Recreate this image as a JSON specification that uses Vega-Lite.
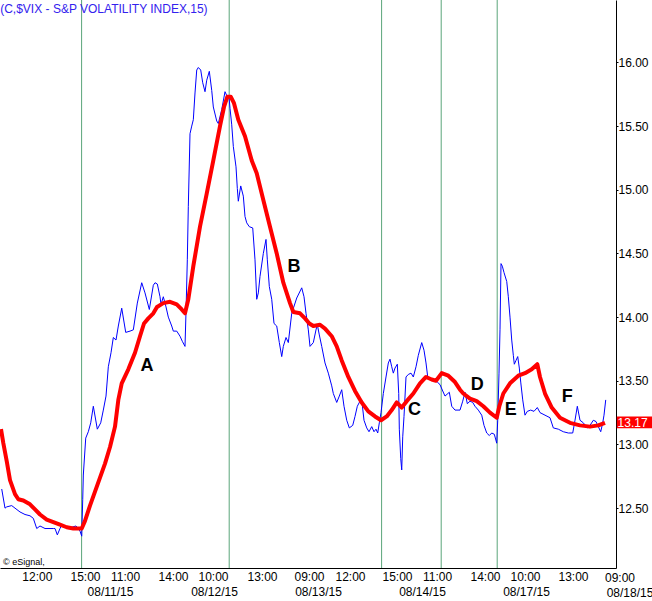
{
  "$schema": "https://vega.github.io/schema/vega-lite/v6.json",
  "width": 616,
  "height": 568,
  "autosize": "none",
  "padding": {"left": 0, "top": 0, "right": 36, "bottom": 33},
  "background": "white",
  "config": {"view": {"stroke": null}, "font": "Liberation Sans"},
  "datasets": {
    "vix": [
      {"t":0.43,"v":12.65},{"t":1.25,"v":12.50},{"t":1.68,"v":12.51},{"t":2.93,"v":12.52},{"t":3.75,"v":12.50},{"t":5,"v":12.47},{"t":6.25,"v":12.45},{"t":7.5,"v":12.44},{"t":8.33,"v":12.42},{"t":9.18,"v":12.34},{"t":10,"v":12.36},{"t":11.25,"v":12.34},{"t":12.5,"v":12.34},{"t":13.33,"v":12.34},{"t":13.75,"v":12.34},{"t":14.33,"v":12.29},{"t":15,"v":12.34},{"t":15.43,"v":12.37},{"t":16.25,"v":12.36},{"t":17.08,"v":12.34},{"t":17.93,"v":12.35},{"t":19,"v":12.36},{"t":19.58,"v":12.34},{"t":20,"v":12.32},{"t":20.43,"v":12.28},{"t":20.68,"v":12.57},{"t":20.83,"v":12.76},{"t":21.43,"v":13.05},{"t":22.08,"v":13.10},{"t":22.68,"v":13.17},{"t":23.33,"v":13.30},{"t":24.33,"v":13.12},{"t":25.18,"v":13.17},{"t":25.83,"v":13.27},{"t":26.5,"v":13.38},{"t":27.08,"v":13.61},{"t":27.75,"v":13.72},{"t":28.33,"v":13.84},{"t":29,"v":13.82},{"t":29.58,"v":13.93},{"t":30.43,"v":14.07},{"t":31.43,"v":13.88},{"t":32.5,"v":13.89},{"t":33.33,"v":13.90},{"t":34.33,"v":14.11},{"t":35.43,"v":14.27},{"t":36.25,"v":14.19},{"t":37.33,"v":14.06},{"t":38.33,"v":14.25},{"t":38.75,"v":14.27},{"t":39.33,"v":14.26},{"t":40,"v":14.16},{"t":40.25,"v":14.10},{"t":40.83,"v":14.16},{"t":41.5,"v":14.08},{"t":42.08,"v":14.00},{"t":42.93,"v":13.93},{"t":43.33,"v":13.89},{"t":44.18,"v":13.89},{"t":45,"v":13.85},{"t":45.58,"v":13.81},{"t":46.25,"v":13.77},{"t":46.5,"v":14.04},{"t":46.83,"v":14.45},{"t":47.08,"v":14.87},{"t":47.5,"v":15.44},{"t":47.93,"v":15.50},{"t":48.33,"v":15.55},{"t":48.75,"v":15.76},{"t":49.18,"v":15.94},{"t":49.58,"v":15.96},{"t":50.18,"v":15.94},{"t":50.68,"v":15.84},{"t":51.25,"v":15.77},{"t":51.68,"v":15.86},{"t":52.33,"v":15.93},{"t":52.93,"v":15.78},{"t":53.33,"v":15.65},{"t":54.18,"v":15.54},{"t":54.58,"v":15.52},{"t":55.43,"v":15.63},{"t":56.25,"v":15.77},{"t":56.68,"v":15.74},{"t":57.25,"v":15.73},{"t":57.5,"v":15.64},{"t":57.93,"v":15.51},{"t":58.33,"v":15.34},{"t":59,"v":15.18},{"t":59.33,"v":15.01},{"t":59.58,"v":14.91},{"t":60.18,"v":15.03},{"t":60.83,"v":14.95},{"t":61.25,"v":14.79},{"t":61.68,"v":14.74},{"t":62.33,"v":14.71},{"t":63.18,"v":14.70},{"t":63.75,"v":14.45},{"t":64.18,"v":14.14},{"t":64.58,"v":14.19},{"t":65,"v":14.32},{"t":65.83,"v":14.50},{"t":66.5,"v":14.61},{"t":66.83,"v":14.45},{"t":67.33,"v":14.24},{"t":67.93,"v":14.14},{"t":68.5,"v":13.95},{"t":69.18,"v":13.93},{"t":69.83,"v":13.80},{"t":70.43,"v":13.69},{"t":70.83,"v":13.77},{"t":71.5,"v":13.84},{"t":72.08,"v":13.80},{"t":72.93,"v":14.03},{"t":74.18,"v":14.15},{"t":75.43,"v":14.23},{"t":76,"v":14.16},{"t":76.5,"v":14.03},{"t":77.08,"v":13.90},{"t":77.5,"v":13.77},{"t":78.33,"v":13.80},{"t":79,"v":13.90},{"t":79.33,"v":13.94},{"t":79.83,"v":13.86},{"t":80.43,"v":13.77},{"t":81.25,"v":13.64},{"t":82.08,"v":13.56},{"t":82.93,"v":13.46},{"t":83.33,"v":13.40},{"t":84.18,"v":13.33},{"t":84.83,"v":13.38},{"t":85.43,"v":13.43},{"t":86,"v":13.30},{"t":86.68,"v":13.19},{"t":87.33,"v":13.13},{"t":88.18,"v":13.15},{"t":88.75,"v":13.22},{"t":89.33,"v":13.30},{"t":90,"v":13.34},{"t":90.43,"v":13.35},{"t":91,"v":13.19},{"t":91.68,"v":13.13},{"t":92.25,"v":13.10},{"t":92.93,"v":13.14},{"t":93.5,"v":13.10},{"t":94,"v":13.12},{"t":94.43,"v":13.09},{"t":94.83,"v":13.17},{"t":95.25,"v":13.25},{"t":95.83,"v":13.40},{"t":96.5,"v":13.53},{"t":97.08,"v":13.64},{"t":97.5,"v":13.67},{"t":97.93,"v":13.61},{"t":98.33,"v":13.56},{"t":98.75,"v":13.60},{"t":99.33,"v":13.63},{"t":99.68,"v":13.40},{"t":99.83,"v":13.12},{"t":100.18,"v":12.89},{"t":100.43,"v":12.80},{"t":100.68,"v":13.06},{"t":101,"v":13.22},{"t":101.5,"v":13.53},{"t":102.08,"v":13.55},{"t":102.75,"v":13.56},{"t":103.33,"v":13.53},{"t":104,"v":13.61},{"t":104.58,"v":13.70},{"t":105.43,"v":13.80},{"t":106,"v":13.74},{"t":106.5,"v":13.64},{"t":106.93,"v":13.53},{"t":107.68,"v":13.51},{"t":108.5,"v":13.50},{"t":109.33,"v":13.49},{"t":110,"v":13.47},{"t":110.68,"v":13.42},{"t":111.25,"v":13.38},{"t":112.33,"v":13.41},{"t":112.93,"v":13.30},{"t":113.75,"v":13.27},{"t":115,"v":13.27},{"t":115.68,"v":13.34},{"t":116.25,"v":13.41},{"t":116.83,"v":13.32},{"t":117.5,"v":13.34},{"t":118.18,"v":13.33},{"t":118.75,"v":13.30},{"t":119.58,"v":13.27},{"t":120.43,"v":13.23},{"t":121,"v":13.15},{"t":121.68,"v":13.09},{"t":122.33,"v":13.07},{"t":122.93,"v":13.09},{"t":123.58,"v":13.08},{"t":124.18,"v":13.01},{"t":124.43,"v":13.19},{"t":124.75,"v":13.56},{"t":125,"v":13.90},{"t":125.25,"v":14.42},{"t":125.58,"v":14.40},{"t":126,"v":14.35},{"t":126.68,"v":14.28},{"t":127.08,"v":14.16},{"t":127.5,"v":14.00},{"t":127.93,"v":13.82},{"t":128.33,"v":13.70},{"t":128.58,"v":13.63},{"t":129,"v":13.66},{"t":129.43,"v":13.69},{"t":129.83,"v":13.60},{"t":130.18,"v":13.49},{"t":130.68,"v":13.35},{"t":131.25,"v":13.23},{"t":131.83,"v":13.26},{"t":132.68,"v":13.27},{"t":133.5,"v":13.26},{"t":134.33,"v":13.29},{"t":135,"v":13.25},{"t":136.25,"v":13.23},{"t":137.5,"v":13.21},{"t":138.33,"v":13.13},{"t":139.58,"v":13.12},{"t":140.83,"v":13.10},{"t":142.08,"v":13.09},{"t":143.18,"v":13.09},{"t":143.75,"v":13.19},{"t":144.33,"v":13.30},{"t":145,"v":13.19},{"t":145.83,"v":13.17},{"t":146.83,"v":13.13},{"t":147.5,"v":13.15},{"t":148.33,"v":13.19},{"t":149,"v":13.18},{"t":149.58,"v":13.14},{"t":150.18,"v":13.10},{"t":150.68,"v":13.17},{"t":151,"v":13.23},{"t":151.43,"v":13.35}
    ],
    "ma": [
      {"t":0.25,"v":13.12},{"t":0.83,"v":13.01},{"t":1.68,"v":12.87},{"t":2.5,"v":12.72},{"t":3.75,"v":12.61},{"t":4.58,"v":12.57},{"t":5.83,"v":12.56},{"t":7.5,"v":12.53},{"t":8.75,"v":12.49},{"t":10,"v":12.45},{"t":11.68,"v":12.41},{"t":13.33,"v":12.39},{"t":15,"v":12.37},{"t":16.68,"v":12.35},{"t":18.33,"v":12.34},{"t":19.58,"v":12.34},{"t":20.43,"v":12.34},{"t":21.25,"v":12.40},{"t":22.5,"v":12.52},{"t":23.75,"v":12.63},{"t":25,"v":12.74},{"t":26.25,"v":12.85},{"t":27.5,"v":12.98},{"t":28.75,"v":13.14},{"t":29.58,"v":13.35},{"t":30.43,"v":13.48},{"t":32.08,"v":13.59},{"t":33.75,"v":13.72},{"t":35,"v":13.85},{"t":36,"v":13.95},{"t":37.08,"v":13.99},{"t":38.33,"v":14.03},{"t":39.25,"v":14.08},{"t":40.83,"v":14.11},{"t":42.5,"v":14.12},{"t":44.18,"v":14.10},{"t":45.43,"v":14.06},{"t":46.25,"v":14.03},{"t":47.08,"v":14.14},{"t":48.33,"v":14.40},{"t":50,"v":14.71},{"t":51.68,"v":14.97},{"t":53.33,"v":15.23},{"t":55,"v":15.50},{"t":56,"v":15.65},{"t":56.83,"v":15.73},{"t":57.68,"v":15.73},{"t":58.5,"v":15.68},{"t":59.58,"v":15.55},{"t":61.25,"v":15.42},{"t":62.93,"v":15.23},{"t":64.18,"v":15.13},{"t":65.83,"v":14.92},{"t":67.5,"v":14.71},{"t":69.18,"v":14.50},{"t":70.83,"v":14.27},{"t":72.5,"v":14.11},{"t":73.33,"v":14.04},{"t":75,"v":14.03},{"t":76.25,"v":13.99},{"t":77.33,"v":13.95},{"t":78.33,"v":13.93},{"t":80,"v":13.94},{"t":81.25,"v":13.91},{"t":82.93,"v":13.85},{"t":84.18,"v":13.77},{"t":85.43,"v":13.66},{"t":87.08,"v":13.53},{"t":88.75,"v":13.42},{"t":90.43,"v":13.33},{"t":92.08,"v":13.26},{"t":93.75,"v":13.22},{"t":95.25,"v":13.19},{"t":96.68,"v":13.22},{"t":97.93,"v":13.27},{"t":99.18,"v":13.33},{"t":100.43,"v":13.29},{"t":101.68,"v":13.34},{"t":103.33,"v":13.40},{"t":105,"v":13.48},{"t":106.5,"v":13.53},{"t":107.93,"v":13.51},{"t":109,"v":13.50},{"t":110.43,"v":13.56},{"t":112.08,"v":13.54},{"t":113.75,"v":13.49},{"t":115,"v":13.43},{"t":115.83,"v":13.40},{"t":117.5,"v":13.36},{"t":119.18,"v":13.34},{"t":120.83,"v":13.30},{"t":122.5,"v":13.25},{"t":124.18,"v":13.21},{"t":124.83,"v":13.30},{"t":125.83,"v":13.40},{"t":127.5,"v":13.48},{"t":129.58,"v":13.54},{"t":131.25,"v":13.56},{"t":132.93,"v":13.59},{"t":134.33,"v":13.63},{"t":135,"v":13.53},{"t":136.25,"v":13.40},{"t":137.93,"v":13.29},{"t":140,"v":13.21},{"t":142.5,"v":13.17},{"t":145,"v":13.15},{"t":147.5,"v":13.14},{"t":149.58,"v":13.15},{"t":151.25,"v":13.17}
    ],
    "vlines": [{"t":20.4},{"t":57.3},{"t":95.4},{"t":110.3},{"t":124.3}],
    "notes": [
      {"t":36.75,"v":13.62,"label":"A"},{"t":73.5,"v":14.39,"label":"B"},{"t":103.6,"v":13.27,"label":"C"},{"t":119.3,"v":13.47,"label":"D"},{"t":127.7,"v":13.27,"label":"E"},{"t":141.8,"v":13.37,"label":"F"}
    ],
    "credit": [{"t":0.75,"v":12.08,"label":"© eSignal,"}],
    "heading": [{"label":"(C,$VIX - S&P VOLATILITY INDEX,15)"}],
    "last": [{"v":13.17,"label":"13.17"}],
    "edgeTime": [{"t":155,"label":"09:00"}],
    "edgeDate": [{"t":157.5,"label":"08/18/15"}]
  },
  "resolve": {"axis": {"x": "independent", "y": "independent"}},
  "layer": [
    {
      "data": {"name": "vlines"},
      "mark": {"type": "rule", "color": "#5aa57a", "strokeWidth": 1},
      "encoding": {
        "x": {"field": "t", "type": "quantitative", "scale": {"domain": [0, 154], "nice": false, "zero": false},
          "axis": {"orient": "bottom", "values": [27.5, 53.5, 79.5, 105.5, 131.5], "labelExpr": "['08/11/15','08/12/15','08/13/15','08/14/15','08/17/15'][indexof([27.5,53.5,79.5,105.5,131.5], datum.value)]", "domain": false, "ticks": false, "grid": false, "title": null, "offset": 15, "labelPadding": 3, "labelFontSize": 12, "labelColor": "black", "labelFont": "Liberation Sans", "labelFlush": false, "labelOverlap": false, "labelBound": false}}
      }
    },
    {
      "data": {"name": "vix"},
      "mark": {"type": "line", "color": "#0000ff", "strokeWidth": 1},
      "encoding": {
        "x": {"field": "t", "type": "quantitative", "scale": {"domain": [0, 154], "nice": false, "zero": false},
          "axis": {"orient": "bottom", "values": [9.2, 21.25, 31.25, 43.25, 53.25, 65.5, 77.25, 87.5, 99.25, 109.25, 121.25, 131.25, 143.25], "labelExpr": "['12:00','15:00','11:00','14:00','10:00','13:00','09:00','12:00','15:00','11:00','14:00','10:00','13:00'][indexof([9.2,21.25,31.25,43.25,53.25,65.5,77.25,87.5,99.25,109.25,121.25,131.25,143.25], datum.value)]", "domain": true, "domainColor": "black", "domainWidth": 1, "ticks": false, "grid": false, "title": null, "labelPadding": 3, "labelFontSize": 12, "labelColor": "black", "labelFont": "Liberation Sans", "labelFlush": false, "labelOverlap": false, "labelBound": false}},
        "y": {"field": "v", "type": "quantitative", "scale": {"domain": [12.03, 16.49], "nice": false, "zero": false},
          "axis": {"orient": "right", "values": [12.5, 13, 13.5, 14, 14.5, 15, 15.5, 16], "format": ".2f", "domain": true, "domainColor": "black", "domainWidth": 1, "ticks": true, "tickSize": 2, "tickColor": "black", "grid": false, "title": null, "labelPadding": 0, "labelFontSize": 12, "labelColor": "black", "labelFont": "Liberation Sans", "labelFlush": false, "labelOverlap": false, "labelBound": false}}
      }
    },
    {
      "data": {"name": "ma"},
      "mark": {"type": "line", "color": "#ff0000", "strokeWidth": 4, "strokeJoin": "round"},
      "encoding": {
        "x": {"field": "t", "type": "quantitative", "scale": {"domain": [0, 154], "nice": false, "zero": false}, "axis": null},
        "y": {"field": "v", "type": "quantitative", "scale": {"domain": [12.03, 16.49], "nice": false, "zero": false}, "axis": null}
      }
    },
    {
      "data": {"name": "notes"},
      "mark": {"type": "text", "fontSize": 18, "fontWeight": "bold", "font": "Liberation Sans", "color": "black", "align": "center", "baseline": "middle"},
      "encoding": {
        "x": {"field": "t", "type": "quantitative", "scale": {"domain": [0, 154], "nice": false, "zero": false}, "axis": null},
        "y": {"field": "v", "type": "quantitative", "scale": {"domain": [12.03, 16.49], "nice": false, "zero": false}, "axis": null},
        "text": {"field": "label"}
      }
    },
    {
      "data": {"name": "credit"},
      "mark": {"type": "text", "fontSize": 9, "font": "Liberation Sans", "color": "black", "align": "left", "baseline": "middle"},
      "encoding": {
        "x": {"field": "t", "type": "quantitative", "scale": {"domain": [0, 154], "nice": false, "zero": false}, "axis": null},
        "y": {"field": "v", "type": "quantitative", "scale": {"domain": [12.03, 16.49], "nice": false, "zero": false}, "axis": null},
        "text": {"field": "label"}
      }
    },
    {
      "data": {"name": "heading"},
      "mark": {"type": "text", "fontSize": 12, "font": "Liberation Sans", "color": "#3322ee", "align": "left", "baseline": "middle"},
      "encoding": {
        "x": {"datum": 0.05, "type": "quantitative", "scale": {"domain": [0, 154], "nice": false, "zero": false}, "axis": null},
        "y": {"datum": 16.42, "type": "quantitative", "scale": {"domain": [12.03, 16.49], "nice": false, "zero": false}, "axis": null},
        "text": {"field": "label"}
      }
    },
    {
      "data": {"name": "edgeTime"},
      "mark": {"type": "text", "fontSize": 12, "font": "Liberation Sans", "color": "black", "align": "center", "baseline": "top"},
      "encoding": {
        "x": {"field": "t", "type": "quantitative", "scale": {"domain": [0, 154], "nice": false, "zero": false}, "axis": null},
        "y": {"datum": 11.99, "type": "quantitative", "scale": {"domain": [12.03, 16.49], "nice": false, "zero": false}, "axis": null},
        "text": {"field": "label"}
      }
    },
    {
      "data": {"name": "edgeDate"},
      "mark": {"type": "text", "fontSize": 12, "font": "Liberation Sans", "color": "black", "align": "center", "baseline": "top"},
      "encoding": {
        "x": {"field": "t", "type": "quantitative", "scale": {"domain": [0, 154], "nice": false, "zero": false}, "axis": null},
        "y": {"datum": 11.87, "type": "quantitative", "scale": {"domain": [12.03, 16.49], "nice": false, "zero": false}, "axis": null},
        "text": {"field": "label"}
      }
    },
    {
      "data": {"name": "last"},
      "mark": {"type": "rect", "color": "#ff0000"},
      "encoding": {
        "x": {"datum": 154.2, "type": "quantitative", "scale": {"domain": [0, 154], "nice": false, "zero": false}, "axis": null},
        "x2": {"datum": 163},
        "y": {"datum": 13.128, "type": "quantitative", "scale": {"domain": [12.03, 16.49], "nice": false, "zero": false}, "axis": null},
        "y2": {"datum": 13.219}
      }
    },
    {
      "data": {"name": "last"},
      "mark": {"type": "text", "fontSize": 12, "font": "Liberation Sans", "color": "white", "align": "left", "baseline": "middle"},
      "encoding": {
        "x": {"datum": 154.4, "type": "quantitative", "scale": {"domain": [0, 154], "nice": false, "zero": false}, "axis": null},
        "y": {"field": "v", "type": "quantitative", "scale": {"domain": [12.03, 16.49], "nice": false, "zero": false}, "axis": null},
        "text": {"field": "label"}
      }
    }
  ]
}
